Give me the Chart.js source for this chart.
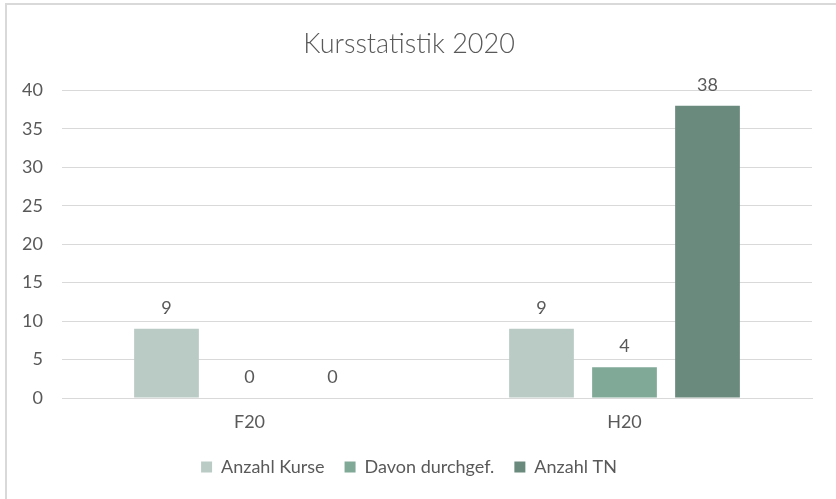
<!DOCTYPE html>
<html>
<head>
<meta charset="utf-8">
<script src="https://cdn.jsdelivr.net/npm/chart.js@4/dist/chart.umd.min.js"></script>
<style>
  html, body { margin: 0; padding: 0; background: #fff; }
  #wrap { position: relative; width: 836px; height: 499px; }
  #wrap::before {
    content: ""; position: absolute; left: 5px; top: 3px; right: 0; bottom: 0;
    border-left: 2px solid #d9d9d9; border-top: 2px solid #d9d9d9; pointer-events: none;
  }
</style>
</head>
<body>
<div id="wrap"><canvas id="chart" width="836" height="499"></canvas></div>
<script>
const labels = ["F20", "H20"];
const anzahlKurse = [9, 9];
const davonDurchgef = [0, 4];
const anzahlTN = [0, 38];
const seriesNames = ["Anzahl Kurse", "Davon durchgef.", "Anzahl TN"];
const colors = ["#bacbc5", "#80a997", "#6a8a7d"];

const textColor = "#595959";
const fontFamily = "Lato, 'Open Sans', sans-serif";

// value labels above bars
const valueLabels = {
  id: "valueLabels",
  afterDatasetsDraw(chart) {
    const ctx = chart.ctx;
    ctx.save();
    ctx.font = "18px " + fontFamily;
    ctx.fillStyle = textColor;
    ctx.textAlign = "center";
    ctx.textBaseline = "middle";
    chart.data.datasets.forEach((ds, i) => {
      chart.getDatasetMeta(i).data.forEach((bar, j) => {
        ctx.fillText(String(ds.data[j]), bar.x, bar.y - 21);
      });
    });
    ctx.restore();
  }
};

new Chart(document.getElementById("chart"), {
  type: "bar",
  data: {
    labels: labels,
    datasets: [
      { label: seriesNames[0], data: anzahlKurse, backgroundColor: colors[0] },
      { label: seriesNames[1], data: davonDurchgef, backgroundColor: colors[1] },
      { label: seriesNames[2], data: anzahlTN, backgroundColor: colors[2] },
    ],
  },
  options: {
    responsive: false,
    animation: false,
    categoryPercentage: 0.664,
    barPercentage: 0.78,
    layout: { padding: { left: 6, right: 24, top: 4, bottom: 13 } },
    plugins: {
      title: {
        display: true,
        text: "Kursstatistik 2020",
        color: textColor,
        font: { family: fontFamily, size: 27, weight: "300" },
        padding: { top: 24, bottom: 30 },
      },
      legend: {
        position: "bottom",
        labels: {
          color: textColor,
          font: { family: fontFamily, size: 18 },
          boxWidth: 11,
          boxHeight: 11,
          padding: 20,
        },
      },
      tooltip: { enabled: false },
    },
    scales: {
      x: {
        grid: { display: false, drawTicks: false },
        border: { color: "#d9d9d9" },
        ticks: { color: textColor, font: { family: fontFamily, size: 18 }, padding: 13 },
        afterFit(scale) { scale.height = 40; },
      },
      y: {
        min: 0,
        max: 40,
        ticks: { stepSize: 5, color: textColor, font: { family: fontFamily, size: 18 }, padding: 19 },
        grid: { color: "#d9d9d9", drawTicks: false },
        border: { display: false },
        afterFit(scale) { scale.width = 56; },
      },
    },
  },
  plugins: [valueLabels],
});
</script>
</body>
</html>
